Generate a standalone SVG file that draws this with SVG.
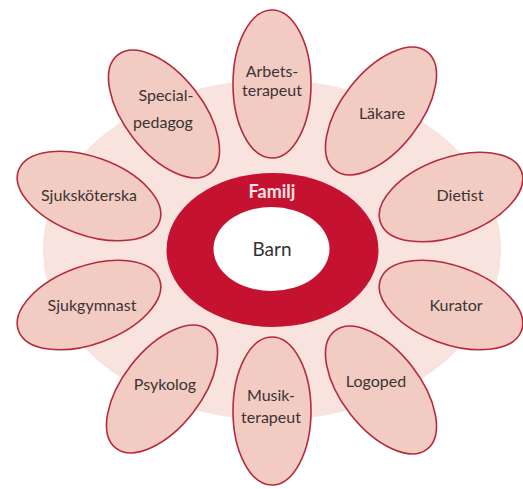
<svg xmlns="http://www.w3.org/2000/svg" width="523" height="489" viewBox="0 0 523 489">
<style>
.petal{fill:#f2cbc3;stroke:#b52a3c;stroke-width:1.6}
.lbl{font-family:Lato,"Open Sans","Liberation Sans",sans-serif;font-size:16px;fill:#3b3433;text-anchor:middle}
.fam{font-family:Lato,"Open Sans","Liberation Sans",sans-serif;font-size:18px;font-weight:bold;fill:#fbe3e3;text-anchor:middle}
.barn{font-family:Lato,"Open Sans","Liberation Sans",sans-serif;font-size:19px;fill:#333;text-anchor:middle}
</style>
<rect width="523" height="489" fill="#ffffff"/>
<ellipse id="bakgrund" cx="272" cy="250" rx="229" ry="170" fill="#f8e3de"/>
<g id="connectors"></g>
<g id="arbetsterapeut"><ellipse class="petal" cx="272" cy="84" rx="39" ry="74"/><text class="lbl" x="272" y="77">Arbets-</text><text class="lbl" x="272" y="96">terapeut</text></g>
<g id="lakare"><ellipse class="petal" cx="381" cy="111" rx="39" ry="75" transform="rotate(38 381 111)"/><text class="lbl" x="382" y="119">Läkare</text></g>
<g id="dietist"><ellipse class="petal" cx="451" cy="197" rx="39" ry="75" transform="rotate(70 451 197)"/><text class="lbl" x="460" y="201">Dietist</text></g>
<g id="kurator"><ellipse class="petal" cx="451" cy="305" rx="39" ry="75" transform="rotate(110 451 305)"/><text class="lbl" x="456" y="311">Kurator</text></g>
<g id="logoped"><ellipse class="petal" cx="381" cy="390" rx="39" ry="75" transform="rotate(142 381 390)"/><text class="lbl" x="376" y="387">Logoped</text></g>
<g id="musikterapeut"><ellipse class="petal" cx="272" cy="411" rx="39" ry="74"/><text class="lbl" x="271" y="401">Musik-</text><text class="lbl" x="271" y="423">terapeut</text></g>
<g id="psykolog"><ellipse class="petal" cx="162" cy="389" rx="39" ry="75" transform="rotate(-142 162 389)"/><text class="lbl" x="165" y="390">Psykolog</text></g>
<g id="sjukgymnast"><ellipse class="petal" cx="89" cy="305" rx="39" ry="75" transform="rotate(-110 89 305)"/><text class="lbl" x="92" y="311">Sjukgymnast</text></g>
<g id="sjukskoterska"><ellipse class="petal" cx="89" cy="196" rx="39" ry="75" transform="rotate(-70 89 196)"/><text class="lbl" x="89" y="201">Sjuksköterska</text></g>
<g id="specialpedagog"><ellipse class="petal" cx="164" cy="114" rx="39" ry="75" transform="rotate(-38 164 114)"/><text class="lbl" x="166" y="101">Special-</text><text class="lbl" x="163" y="128">pedagog</text></g>
<g id="familj"><ellipse cx="272.5" cy="250" rx="106" ry="77" fill="#c51230"/><text class="fam" x="272" y="198">Familj</text></g>
<g id="barn"><ellipse cx="271.5" cy="249" rx="58" ry="42" fill="#ffffff"/><text class="barn" x="272" y="256">Barn</text></g>
</svg>
